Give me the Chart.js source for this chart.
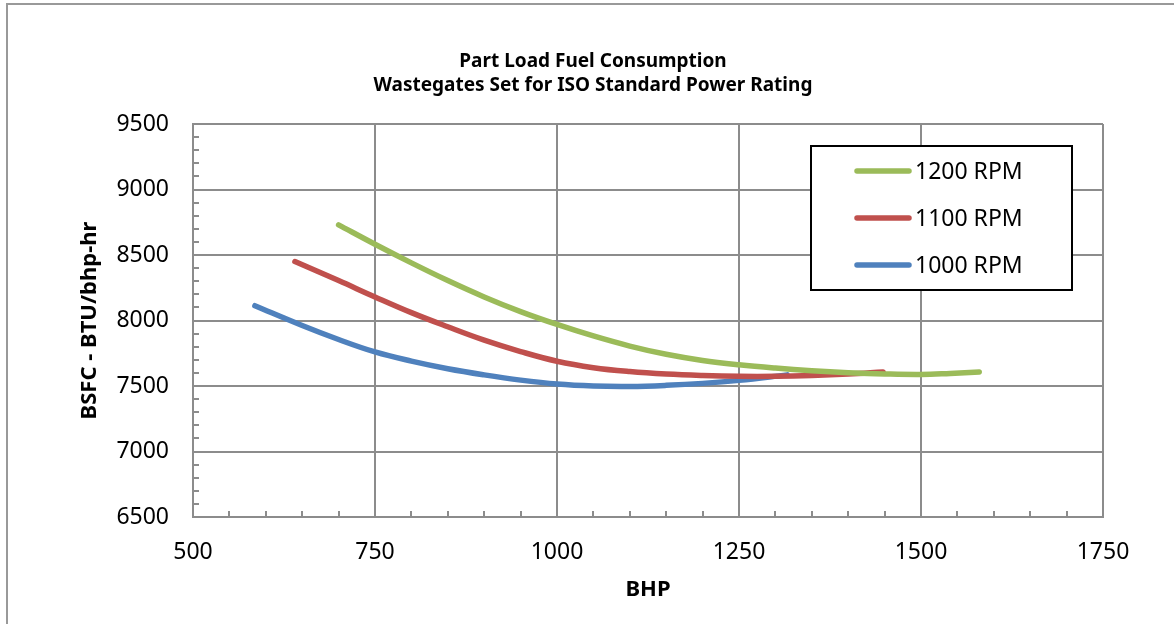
<!DOCTYPE html>
<html>
<head>
<meta charset="utf-8">
<script src="https://cdn.jsdelivr.net/npm/chart.js@4/dist/chart.umd.min.js"></script>
<style>
  html, body { margin: 0; padding: 0; background: #fff; }
  #wrap { width: 1174px; height: 624px; position: relative; }
</style>
</head>
<body>
<div id="wrap"><canvas id="grafico"></canvas></div>
<script>
// Dados (BHP x BSFC)
const series = ['1200 RPM', '1100 RPM', '1000 RPM'];
const cores = ['#9BBB59', '#C0504D', '#4F81BD'];

const bhp1200 = [700, 750, 800, 850, 900, 950, 1000, 1050, 1100, 1150, 1200, 1250, 1300, 1350, 1400, 1450, 1500, 1540, 1580];
const bsfc1200 = [8730, 8582, 8440, 8305, 8180, 8068, 7970, 7882, 7805, 7742, 7695, 7662, 7637, 7617, 7602, 7592, 7588, 7596, 7607];

const bhp1100 = [640, 700, 750, 800, 850, 900, 950, 1000, 1050, 1100, 1150, 1200, 1250, 1300, 1350, 1400, 1448];
const bsfc1100 = [8450, 8305, 8180, 8060, 7952, 7850, 7763, 7689, 7640, 7610, 7591, 7580, 7574, 7574, 7580, 7591, 7607];

const bhp1000 = [585, 650, 700, 750, 800, 850, 900, 950, 1000, 1050, 1100, 1150, 1200, 1250, 1316];
const bsfc1000 = [8113, 7962, 7855, 7760, 7690, 7632, 7585, 7545, 7515, 7500, 7497, 7505, 7520, 7543, 7585];

const xTicks = [500, 750, 1000, 1250, 1500, 1750];
const yTicks = [6500, 7000, 7500, 8000, 8500, 9000, 9500];

const tituloLinhas = ['Part Load Fuel Consumption', 'Wastegates Set for ISO Standard Power Rating'];
const tituloX = 'BHP';
const tituloY = 'BSFC - BTU/bhp-hr';

const fonte = '"Noto Sans", "Open Sans", sans-serif';
const cinza = '#8c8c8c';

function pontos(xs, ys) {
    return xs.map((x, i) => ({ x: x, y: ys[i] }));
}

const dados = [pontos(bhp1200, bsfc1200), pontos(bhp1100, bsfc1100), pontos(bhp1000, bsfc1000)];

// Plugin para moldura, títulos, marcas secundárias e legenda
const extras = {
    id: 'extras',
    beforeDraw(chart) {
        const ctx = chart.ctx;
        ctx.save();
        ctx.strokeStyle = '#999';
        ctx.lineWidth = 2;
        ctx.strokeRect(7, 4, 1200, 700);
        ctx.restore();
    },
    afterDatasetsDraw(chart) {
        const ctx = chart.ctx;
        const area = chart.chartArea;
        const sx = chart.scales.x;
        const sy = chart.scales.y;
        ctx.save();

        // marcas secundárias dentro da área
        ctx.strokeStyle = cinza;
        ctx.lineWidth = 2;
        ctx.beginPath();
        for (let v = 550; v < 1750; v += 50) {
            if (v % 250 === 0) continue;
            const px = Math.round(sx.getPixelForValue(v));
            ctx.moveTo(px, area.bottom);
            ctx.lineTo(px, area.bottom - 6);
        }
        for (let v = 6600; v < 9500; v += 100) {
            if (v % 500 === 0) continue;
            const py = Math.round(sy.getPixelForValue(v));
            ctx.moveTo(area.left, py);
            ctx.lineTo(area.left + 6, py);
        }
        ctx.stroke();

        // títulos
        ctx.fillStyle = '#000';
        ctx.textAlign = 'center';
        ctx.textBaseline = 'middle';
        ctx.font = 'bold 19px ' + fonte;
        ctx.fillText(tituloLinhas[0], 593, 62);
        ctx.fillText(tituloLinhas[1], 593, 86);

        ctx.font = 'bold 22px ' + fonte;
        ctx.fillText(tituloX, (area.left + area.right) / 2, 590);

        ctx.save();
        ctx.translate(90, (area.top + area.bottom) / 2);
        ctx.rotate(-Math.PI / 2);
        ctx.fillText(tituloY, 0, 0);
        ctx.restore();

        // legenda
        ctx.fillStyle = '#fff';
        ctx.fillRect(811, 146, 261, 144);
        ctx.strokeStyle = '#000';
        ctx.lineWidth = 2;
        ctx.strokeRect(811, 146, 261, 144);
        ctx.font = '23px ' + fonte;
        ctx.textAlign = 'left';
        ctx.lineCap = 'round';
        chart.data.datasets.forEach((ds, i) => {
            const y = 171 + i * 47;
            ctx.strokeStyle = ds.borderColor;
            ctx.lineWidth = 5.5;
            ctx.beginPath();
            ctx.moveTo(857, y);
            ctx.lineTo(909, y);
            ctx.stroke();
            ctx.fillStyle = '#000';
            ctx.fillText(ds.label, 915, y + 1);
        });
        ctx.restore();
    }
};

const ctxGrafico = document.getElementById('grafico').getContext('2d');

new Chart(ctxGrafico, {
    type: 'line',
    data: {
        datasets: series.map((nome, i) => ({
            label: nome,
            data: dados[i],
            borderColor: cores[i],
            backgroundColor: cores[i],
            borderWidth: 5.5,
            borderCapStyle: 'round',
            pointRadius: 0,
            fill: false,
            tension: 0.4
        }))
    },
    options: {
        responsive: true,
        maintainAspectRatio: false,
        animation: false,
        layout: {
            padding: { left: 73, right: 71, top: 124, bottom: 47 }
        },
        plugins: {
            legend: { display: false },
            tooltip: { enabled: false }
        },
        scales: {
            x: {
                type: 'linear',
                min: 500,
                max: 1750,
                afterFit(scale) { scale.height = 60; },
                afterBuildTicks(scale) {
                    scale.ticks = xTicks.map(v => ({ value: v }));
                },
                ticks: {
                    color: '#000',
                    padding: 22,
                    font: { family: fonte, size: 23 },
                    callback: v => String(v)
                },
                grid: {
                    color: cinza,
                    lineWidth: 2,
                    drawTicks: false
                },
                border: { color: cinza, width: 2 }
            },
            y: {
                min: 6500,
                max: 9500,
                afterFit(scale) { scale.width = 120; },
                afterBuildTicks(scale) {
                    scale.ticks = yTicks.map(v => ({ value: v }));
                },
                ticks: {
                    color: '#000',
                    padding: 24,
                    font: { family: fonte, size: 23 },
                    callback: v => String(v)
                },
                grid: {
                    color: cinza,
                    lineWidth: 2,
                    drawTicks: false
                },
                border: { color: cinza, width: 2 }
            }
        }
    },
    plugins: [extras]
});
</script>
</body>
</html>
